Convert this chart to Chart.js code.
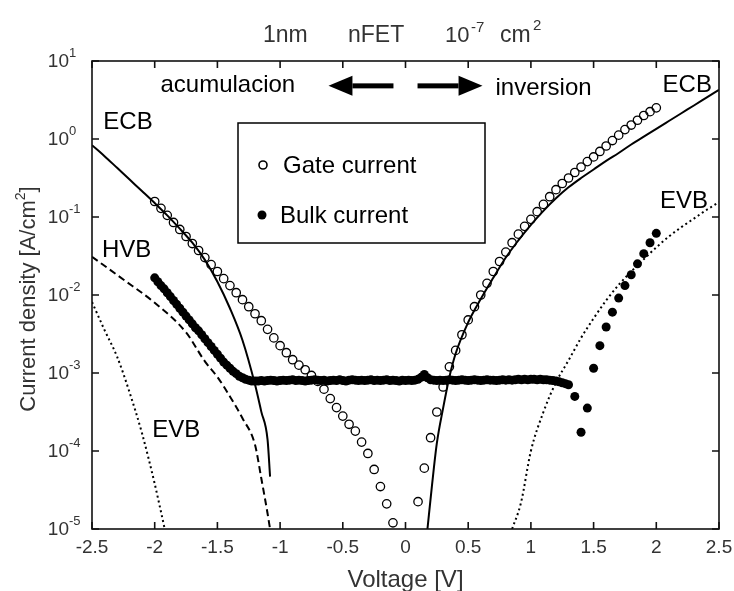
<!DOCTYPE html>
<html><head><meta charset="utf-8">
<script src="https://cdn.jsdelivr.net/npm/chart.js@4.4.0/dist/chart.umd.min.js"></script>
<style>html,body{margin:0;padding:0;background:#fff;}#wrap{width:734px;height:591px;position:relative;}</style>
</head><body><div id="wrap"><canvas id="c"></canvas></div>
<script>
// ---------- DATA (voltage in V, current density in A/cm^2) ----------
const ecbLeftV = [-2.5,-2.4,-2.3,-2.2,-2.1,-2.0,-1.9,-1.8,-1.7,-1.6,-1.5,-1.4,-1.3,-1.2,-1.15,-1.1,-1.08];
const ecbLeftJ = [0.832,0.603,0.427,0.302,0.214,0.151,0.105,0.0708,0.0468,0.0282,0.0148,0.00676,0.00263,7.1e-4,3.2e-4,1.4e-4,4.7e-5];

const ecbRightV = [0.175,0.21,0.25,0.3,0.35,0.4,0.5,0.6,0.7,0.8,0.9,1.0,1.1,1.2,1.3,1.4,1.5,1.6,1.7,1.8,1.9,2.0,2.1,2.2,2.3,2.4,2.5];
const ecbRightJ = [1e-5,3.47e-5,1.26e-4,3.55e-4,8.9e-4,1.78e-3,4.47e-3,8.9e-3,0.0166,0.0302,0.0501,0.0794,0.120,0.174,0.240,0.316,0.407,0.525,0.661,0.851,1.07,1.35,1.70,2.14,2.69,3.39,4.27];

const hvbV = [-2.5,-2.25,-2.0,-1.75,-1.6,-1.5,-1.4,-1.3,-1.2,-1.15,-1.1,-1.08];
const hvbJ = [0.0309,0.0158,0.00794,0.00331,0.00141,8.9e-4,5.0e-4,2.63e-4,1.2e-4,4.47e-5,1.58e-5,1.0e-5];

const evbLeftV = [-2.5,-2.4,-2.3,-2.2,-2.1,-2.0,-1.95,-1.92];
const evbLeftJ = [0.00813,0.00355,0.00162,5.62e-4,1.66e-4,3.8e-5,1.66e-5,1.0e-5];

const evbRightV = [0.85,0.92,1.0,1.1,1.2,1.3,1.4,1.5,1.6,1.7,1.8,1.9,2.0,2.1,2.2,2.3,2.4,2.5];
const evbRightJ = [1e-5,2.14e-5,1.0e-4,3.16e-4,7.59e-4,1.45e-3,2.82e-3,5.01e-3,8.51e-3,0.0135,0.020,0.0288,0.0407,0.0562,0.0741,0.0955,0.123,0.155];

const gateV = [-2.00,-1.95,-1.90,-1.85,-1.80,-1.75,-1.70,-1.65,-1.60,-1.55,-1.50,-1.45,-1.40,-1.35,-1.30,-1.25,-1.20,-1.15,-1.10,-1.05,-1.00,-0.95,-0.90,-0.85,-0.80,-0.75,-0.70,-0.65,-0.60,-0.55,-0.50,-0.45,-0.40,-0.35,-0.30,-0.25,-0.20,-0.15,-0.10,
  0.10,0.15,0.20,0.25,0.30,0.35,0.40,0.45,0.50,0.55,0.60,0.65,0.70,0.75,0.80,0.85,0.90,0.95,1.00,1.05,1.10,1.15,1.20,1.25,1.30,1.35,1.40,1.45,1.50,1.55,1.60,1.65,1.70,1.75,1.80,1.85,1.90,1.95,2.00];
const gateJ = [0.158,0.129,0.105,0.0851,0.0692,0.0562,0.0457,0.0372,0.0302,0.0245,0.0200,0.0162,0.0132,0.0107,0.00871,0.00708,0.00575,0.00468,0.00363,0.00282,0.00224,0.00182,0.00148,0.00126,0.00110,9.3e-4,7.8e-4,6.2e-4,4.7e-4,3.6e-4,2.8e-4,2.2e-4,1.8e-4,1.3e-4,9.3e-5,5.8e-5,3.5e-5,2.1e-5,1.2e-5,
  2.24e-5,6.03e-5,1.48e-4,3.16e-4,6.61e-4,1.20e-3,1.95e-3,3.09e-3,4.79e-3,7.08e-3,0.0100,0.0141,0.0200,0.0269,0.0355,0.0468,0.0603,0.0759,0.0933,0.117,0.145,0.182,0.224,0.269,0.316,0.372,0.437,0.513,0.589,0.692,0.813,0.955,1.12,1.32,1.51,1.74,2.00,2.24,2.51];

const bulkV = [-2.000,-1.975,-1.950,-1.925,-1.900,-1.875,-1.850,-1.825,-1.800,-1.775,-1.750,-1.725,-1.700,-1.675,-1.650,-1.625,-1.600,-1.575,-1.550,-1.525,-1.500,-1.475,-1.450,-1.425,-1.400,-1.375,-1.350,-1.325,-1.300,-1.275,-1.250,-1.225,-1.200,
  -1.175,-1.150,-1.125,-1.100,-1.075,-1.050,-1.025,-1.000,-0.975,-0.950,
  -0.925,-0.900,-0.875,-0.850,-0.825,-0.800,-0.775,-0.750,-0.725,-0.700,
  -0.675,-0.650,-0.625,-0.600,-0.575,-0.550,-0.525,-0.500,-0.475,-0.450,
  -0.425,-0.400,-0.375,-0.350,-0.325,-0.300,-0.275,-0.250,-0.225,-0.200,
  -0.175,-0.150,-0.125,-0.100,-0.075,-0.050,-0.025,0.000,0.025,0.050,
  0.075,0.100,0.125,0.150,0.175,0.200,0.225,0.250,0.275,0.300,
  0.325,0.350,0.375,0.400,0.425,0.450,0.475,0.500,0.525,0.550,
  0.575,0.600,0.625,0.650,0.675,0.700,0.725,0.750,0.775,0.800,
  0.825,0.850,0.875,0.900,0.925,0.950,0.975,1.000,1.025,1.050,
  1.075,1.100,1.125,1.150,1.175,1.200,1.225,1.250,1.275,
  1.30,1.35,1.40,1.45,1.50,1.55,1.60,1.65,1.70,1.75,1.80,1.85,1.90,1.95,2.00];
const bulkJ = [0.0166,0.0148,0.0132,0.0120,0.0107,0.00955,0.00851,0.00759,0.00676,0.00603,0.00537,0.00479,0.00427,0.00380,0.00347,0.00309,0.00275,0.00245,0.00219,0.00195,0.00174,0.00155,0.00138,0.00126,0.00115,0.00105,9.8e-4,9.1e-4,8.7e-4,8.3e-4,8.1e-4,7.9e-4,7.9e-4,
  7.9e-4,8.0e-4,7.9e-4,8.0e-4,8.1e-4,8.0e-4,7.9e-4,8.0e-4,8.1e-4,8.0e-4,
  8.1e-4,8.2e-4,8.0e-4,8.1e-4,8.0e-4,7.9e-4,8.0e-4,8.1e-4,8.2e-4,8.1e-4,
  8.0e-4,8.1e-4,7.9e-4,8.0e-4,8.1e-4,8.0e-4,8.2e-4,8.0e-4,7.9e-4,8.1e-4,
  8.2e-4,8.1e-4,8.0e-4,8.1e-4,8.0e-4,8.1e-4,8.2e-4,8.0e-4,8.1e-4,8.0e-4,
  8.1e-4,8.2e-4,8.0e-4,8.1e-4,8.0e-4,7.9e-4,8.1e-4,8.0e-4,8.1e-4,8.0e-4,
  8.1e-4,8.3e-4,8.8e-4,9.6e-4,8.7e-4,8.2e-4,8.1e-4,8.0e-4,8.1e-4,8.0e-4,
  8.1e-4,8.2e-4,8.1e-4,8.0e-4,8.1e-4,8.2e-4,8.1e-4,8.0e-4,8.1e-4,8.2e-4,
  8.1e-4,8.0e-4,8.1e-4,8.2e-4,8.1e-4,8.1e-4,8.0e-4,8.1e-4,8.2e-4,8.1e-4,
  8.2e-4,8.1e-4,8.2e-4,8.3e-4,8.2e-4,8.3e-4,8.2e-4,8.3e-4,8.3e-4,8.2e-4,
  8.3e-4,8.2e-4,8.2e-4,8.1e-4,8.0e-4,7.9e-4,7.7e-4,7.5e-4,7.3e-4,
  7.08e-4,5.01e-4,1.74e-4,3.55e-4,1.15e-3,2.24e-3,3.89e-3,6.03e-3,9.12e-3,0.0132,0.0182,0.0251,0.0339,0.0468,0.0617];

const xTicks = [-2.5,-2,-1.5,-1,-0.5,0,0.5,1,1.5,2,2.5];
const xTickLabels = ['-2.5','-2','-1.5','-1','-0.5','0','0.5','1','1.5','2','2.5'];
const yTicks = [1e-5,1e-4,1e-3,1e-2,1e-1,1,10];
const yTickExps = ['-5','-4','-3','-2','-1','0','1'];

const seriesNames = ['Gate current','Bulk current'];
const curveLabels = ['ECB','ECB','HVB','EVB','EVB'];

// ---------- helpers ----------
const zip = (xs, ys) => xs.map((v, i) => ({x: v, y: ys[i]}));
const FONT = '"Liberation Sans", Arial, Helvetica, sans-serif';

// annotation placement (in data units)
const notes = [
  {t:'acumulacion', v:-1.954, j:4.9},
  {t:'inversion', v:0.718, j:4.5},
  {t:curveLabels[0], v:-2.41, j:1.65},
  {t:curveLabels[1], v:2.05, j:4.8},
  {t:curveLabels[2], v:-2.42, j:0.0378},
  {t:curveLabels[3], v:-2.02, j:1.86e-4},
  {t:curveLabels[4], v:2.03, j:0.16}
];

function arrow(ctx, x0, x1, xt, y) {
  ctx.fillRect(Math.min(x0, x1), y - 2.5, Math.abs(x1 - x0), 5);
  ctx.beginPath();
  ctx.moveTo(xt, y);
  ctx.lineTo(x1, y - 10);
  ctx.lineTo(x1, y + 10);
  ctx.closePath();
  ctx.fill();
}

const deco = {
  id: 'deco',
  afterDatasetsDraw(chart) {
    const {ctx, chartArea: a, scales: {x, y}} = chart;
    ctx.save();
    // frame
    ctx.strokeStyle = '#111';
    ctx.lineWidth = 1.6;
    ctx.strokeRect(a.left, a.top, a.right - a.left, a.bottom - a.top);
    // ticks
    const tl = 7;
    ctx.beginPath();
    xTicks.forEach(v => {
      const px = x.getPixelForValue(v);
      ctx.moveTo(px, a.bottom); ctx.lineTo(px, a.bottom - tl);
      ctx.moveTo(px, a.top); ctx.lineTo(px, a.top + tl);
    });
    yTicks.forEach(v => {
      const py = y.getPixelForValue(v);
      ctx.moveTo(a.left, py); ctx.lineTo(a.left + tl, py);
      ctx.moveTo(a.right, py); ctx.lineTo(a.right - tl, py);
    });
    ctx.stroke();

    // x tick labels
    ctx.fillStyle = '#333';
    ctx.font = '19px ' + FONT;
    ctx.textAlign = 'center';
    ctx.textBaseline = 'middle';
    xTicks.forEach((v, i) => ctx.fillText(xTickLabels[i], x.getPixelForValue(v), a.bottom + 19));
    // y tick labels 10^n
    yTicks.forEach((v, i) => {
      const py = y.getPixelForValue(v);
      ctx.font = '19px ' + FONT;
      ctx.textAlign = 'right';
      ctx.fillText('10', a.left - 23, py + 1);
      ctx.font = '13px ' + FONT;
      ctx.textAlign = 'left';
      ctx.fillText(yTickExps[i], a.left - 23, py - 8);
    });

    // x axis title
    ctx.font = '24px ' + FONT;
    ctx.textAlign = 'center';
    ctx.textBaseline = 'alphabetic';
    ctx.fillText('Voltage [V]', (a.left + a.right) / 2, 587);

    // y axis title (rotated)
    ctx.save();
    ctx.translate(29, (a.top + a.bottom) / 2 + 4);
    ctx.rotate(-Math.PI / 2);
    ctx.textBaseline = 'middle';
    ctx.textAlign = 'left';
    const p1 = 'Current density [A/cm', p2 = '2', p3 = ']';
    ctx.font = '22px ' + FONT; const w1 = ctx.measureText(p1).width, w3 = ctx.measureText(p3).width;
    ctx.font = '14px ' + FONT; const w2 = ctx.measureText(p2).width;
    let sx = -(w1 + w2 + w3) / 2;
    ctx.font = '22px ' + FONT; ctx.fillText(p1, sx, 0); sx += w1;
    ctx.font = '14px ' + FONT; ctx.fillText(p2, sx, -8); sx += w2;
    ctx.font = '22px ' + FONT; ctx.fillText(p3, sx, 0);
    ctx.restore();

    // chart title
    ctx.textAlign = 'left';
    ctx.textBaseline = 'middle';
    ctx.fillStyle = '#333';
    ctx.font = '23px ' + FONT;
    ctx.fillText('1nm', 263, 36);
    ctx.fillText('nFET', 348, 36);
    ctx.fillText('cm', 500, 36);
    ctx.font = '22px ' + FONT;
    ctx.fillText('10', 445, 36);
    ctx.font = '15px ' + FONT;
    ctx.fillText('-7', 471, 28);
    ctx.fillText('2', 533, 26);

    // annotations
    ctx.fillStyle = '#000';
    ctx.font = '24px ' + FONT;
    notes.forEach(n => ctx.fillText(n.t, x.getPixelForValue(n.v), y.getPixelForValue(n.j)));

    // arrows
    const ay = y.getPixelForValue(4.8);
    arrow(ctx, x.getPixelForValue(-0.096), x.getPixelForValue(-0.423), x.getPixelForValue(-0.614), ay);
    arrow(ctx, x.getPixelForValue(0.096), x.getPixelForValue(0.423), x.getPixelForValue(0.614), ay);

    // legend box
    ctx.fillStyle = '#fff';
    ctx.fillRect(238, 123, 247, 120);
    ctx.strokeStyle = '#000';
    ctx.lineWidth = 1.5;
    ctx.strokeRect(238, 123, 247, 120);
    ctx.beginPath();
    ctx.arc(263, 165, 4, 0, Math.PI * 2);
    ctx.lineWidth = 1.6;
    ctx.stroke();
    ctx.beginPath();
    ctx.arc(262, 215, 4.5, 0, Math.PI * 2);
    ctx.fillStyle = '#000';
    ctx.fill();
    ctx.font = '24px ' + FONT;
    ctx.fillText(seriesNames[0], 283, 166);
    ctx.fillText(seriesNames[1], 280, 216);
    ctx.restore();
  }
};

const lineDs = (xs, ys, dash) => ({
  data: zip(xs, ys), showLine: true, pointRadius: 0, borderColor: '#000',
  borderWidth: 2, borderDash: dash, cubicInterpolationMode: 'monotone', fill: false
});

new Chart(document.getElementById('c'), {
  type: 'scatter',
  data: {
    datasets: [
      {label: seriesNames[1], data: zip(bulkV, bulkJ), showLine: false, pointRadius: 4.5,
       backgroundColor: '#000', borderColor: '#000', borderWidth: 0},
      {label: seriesNames[0], data: zip(gateV, gateJ), showLine: false, pointRadius: 4.2,
       backgroundColor: 'rgba(0,0,0,0)', borderColor: '#000', borderWidth: 1.3},
      lineDs(ecbLeftV, ecbLeftJ, []),
      lineDs(ecbRightV, ecbRightJ, []),
      lineDs(hvbV, hvbJ, [7, 4]),
      lineDs(evbLeftV, evbLeftJ, [2, 3]),
      lineDs(evbRightV, evbRightJ, [2, 3])
    ]
  },
  options: {
    responsive: true, maintainAspectRatio: false, animation: false, events: [],
    layout: {padding: {left: 92, top: 61, right: 15, bottom: 62}},
    plugins: {legend: {display: false}, tooltip: {enabled: false}, title: {display: false}},
    scales: {
      x: {type: 'linear', min: -2.5, max: 2.5, display: false},
      y: {type: 'logarithmic', min: 1e-5, max: 10, display: false}
    }
  },
  plugins: [deco]
});
</script>
</body></html>
